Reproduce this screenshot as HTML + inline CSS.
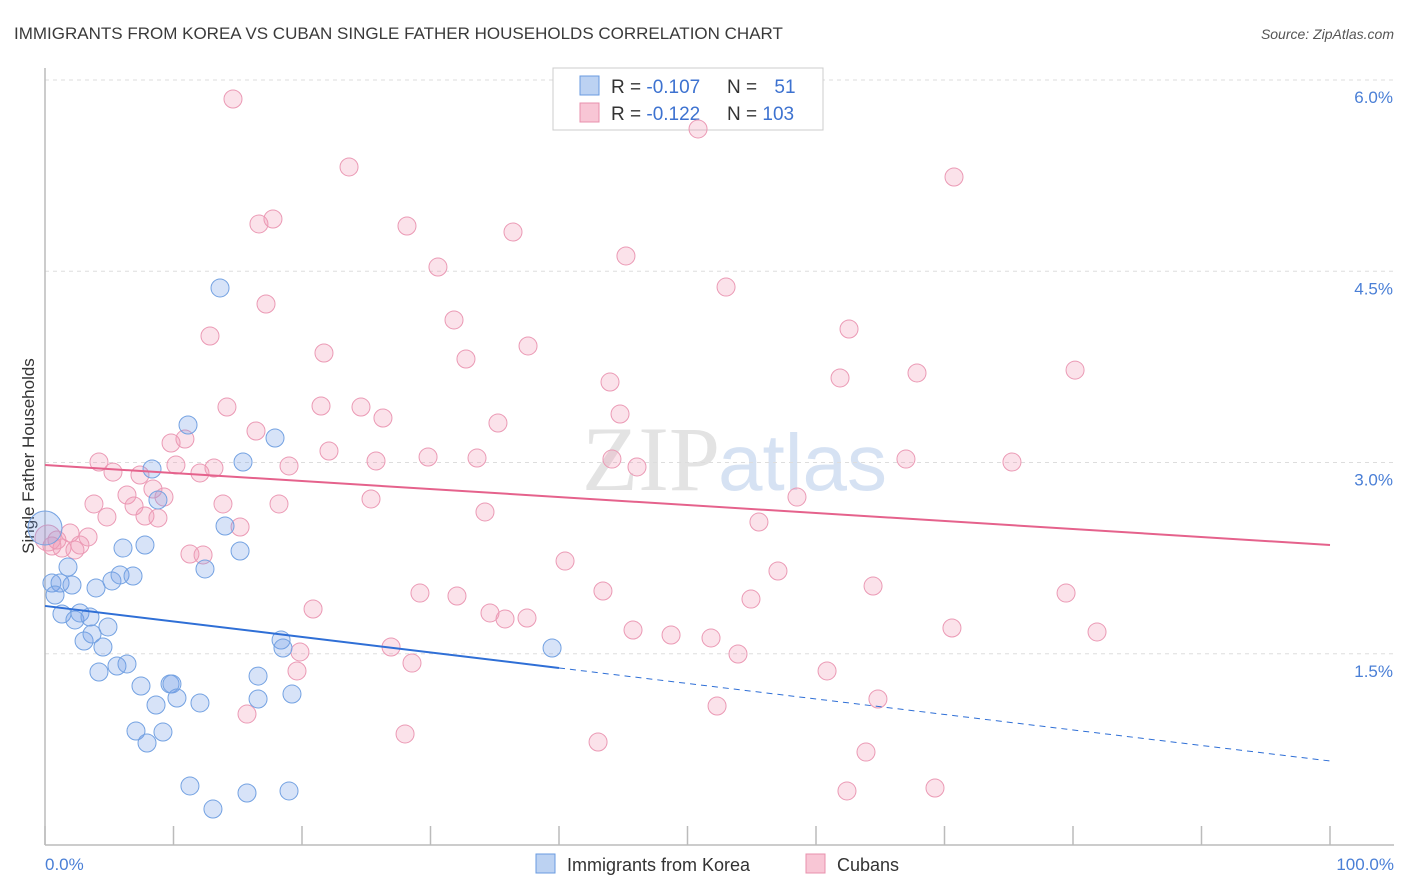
<!DOCTYPE html>
<html><head><meta charset="utf-8"><style>
body{margin:0;background:#fff;font-family:"Liberation Sans",sans-serif}
svg{display:block}
</style></head><body>
<svg id="chart" width="1406" height="892" xmlns="http://www.w3.org/2000/svg">
<text x="14" y="39" font-size="17" fill="#3a3a3a">IMMIGRANTS FROM KOREA VS CUBAN SINGLE FATHER HOUSEHOLDS CORRELATION CHART</text>
<text x="1394" y="39" font-size="14" font-style="italic" fill="#555" text-anchor="end">Source: ZipAtlas.com</text>
<text x="720" y="490" font-size="92" fill="#e3e3e3" text-anchor="end" font-family="Liberation Serif">ZIP</text>
<text x="718" y="490" font-size="80" fill="#d6e2f3">atlas</text>
<g id="grid"></g>
<line x1="45" y1="68" x2="45" y2="845" stroke="#bbb" stroke-width="1.5"/>
<line x1="45" y1="845" x2="1394" y2="845" stroke="#bbb" stroke-width="1.5"/>
<text transform="translate(34,456) rotate(-90)" font-size="17" fill="#333" text-anchor="middle">Single Father Households</text>
<text x="45" y="870" font-size="17" fill="#4a7fd6">0.0%</text>
<text x="1394" y="870" font-size="17" fill="#4a7fd6" text-anchor="end">100.0%</text>
<g>
<rect x="553" y="68" width="270" height="62" fill="#fff" stroke="#ccc"/>
<rect x="580" y="76" width="19" height="19" fill="#bcd2f2" stroke="#6a9be0"/>
<rect x="580" y="103" width="19" height="19" fill="#f8c6d5" stroke="#e890ad"/>
<text x="611" y="93" font-size="19" fill="#333">R = <tspan fill="#3d72d0">-0.107</tspan></text>
<text x="727" y="93" font-size="19" fill="#333">N = <tspan fill="#3d72d0" dx="12">51</tspan></text>
<text x="611" y="120" font-size="19" fill="#333">R = <tspan fill="#3d72d0">-0.122</tspan></text>
<text x="727" y="120" font-size="19" fill="#333">N = <tspan fill="#3d72d0">103</tspan></text>
</g>
<g id="pts"></g>
<g id="lines"></g>
<g><rect x="536" y="854" width="19" height="19" fill="#bcd2f2" stroke="#6a9be0"/><text x="567" y="871" font-size="18" fill="#333">Immigrants from Korea</text></g>
<g><rect x="806" y="854" width="19" height="19" fill="#f8c6d5" stroke="#e890ad"/><text x="837" y="871" font-size="18" fill="#333">Cubans</text></g>
</svg>
<script>
const yTicks=[1.5,3.0,4.5,6.0];
const xTicks=[0,10,20,30,40,50,60,70,80,90,100];
const koreaPx=[[45,528],[52,583],[60,583],[72,585],[55,595],[62,614],[75,620],[80,613],[90,617],[68,567],[96,588],[112,581],[120,575],[133,576],[123,548],[145,545],[152,469],[158,500],[188,425],[220,288],[243,462],[275,438],[225,526],[240,551],[205,569],[84,641],[92,634],[103,647],[108,627],[99,672],[117,666],[127,664],[141,686],[170,684],[172,684],[177,698],[200,703],[156,705],[136,731],[163,732],[147,743],[190,786],[213,809],[247,793],[289,791],[258,676],[258,699],[281,640],[283,648],[292,694],[552,648]];
const cubaPx=[[233,99],[349,167],[698,129],[954,177],[259,224],[273,219],[407,226],[513,232],[626,256],[438,267],[266,304],[726,287],[210,336],[454,320],[324,353],[528,346],[466,359],[849,329],[610,382],[840,378],[917,373],[1075,370],[227,407],[321,406],[361,407],[383,418],[620,414],[498,423],[256,431],[171,443],[185,439],[329,451],[376,461],[428,457],[477,458],[612,459],[637,467],[906,459],[1012,462],[99,462],[113,472],[140,475],[176,465],[200,473],[214,468],[289,466],[153,489],[127,495],[164,497],[94,504],[134,506],[223,504],[279,504],[371,499],[485,512],[797,497],[107,517],[145,516],[158,518],[240,527],[759,522],[88,537],[70,533],[57,540],[52,546],[62,548],[75,550],[80,545],[190,554],[203,555],[48,538],[565,561],[778,571],[313,609],[420,593],[457,596],[490,613],[505,619],[527,618],[603,591],[751,599],[873,586],[1066,593],[633,630],[671,635],[711,638],[738,654],[952,628],[1097,632],[300,652],[297,671],[391,647],[412,663],[827,671],[247,714],[405,734],[598,742],[717,706],[878,699],[866,752],[847,791],[935,788]];
const koreaX=koreaPx.map(p=>+((p[0]-45)/12.85).toFixed(2));
const koreaY=koreaPx.map(p=>+((845-p[1])/127.5).toFixed(3));
const cubaX=cubaPx.map(p=>+((p[0]-45)/12.85).toFixed(2));
const cubaY=cubaPx.map(p=>+((845-p[1])/127.5).toFixed(3));
const koreaTrend=[1.875,0.659];
const cubaTrend=[2.98,2.353];
const NS="http://www.w3.org/2000/svg";
const X=v=>45+v*12.85, Y=v=>845-v*127.5;
function mk(t,a,p){const e=document.createElementNS(NS,t);for(const k in a)e.setAttribute(k,a[k]);p.appendChild(e);return e;}
const grid=document.getElementById('grid');
yTicks.forEach(t=>{
 const l=mk('line',{x1:45,x2:1394,y1:Y(t),y2:Y(t),stroke:'#ddd','stroke-dasharray':'4,4'},grid);
 
 
 const tx=mk('text',{x:1393,y:Y(t)+23,'font-size':17,fill:'#4a7fd6','text-anchor':'end'},grid);
 tx.textContent=t.toFixed(1)+'%';
 
 
});
xTicks.forEach(t=>{
 const l=mk('line',{x1:X(t),x2:X(t),y1:826,y2:845,stroke:'#bbb','stroke-width':1.5},grid);
 
 
});
const pts=document.getElementById('pts');
cubaX.forEach((x,i)=>{
 const big=i===70;
 const c=mk('circle',{cx:X(x),cy:Y(cubaY[i]),r:big?13:9,fill:'rgba(240,150,180,0.28)',stroke:'#eb9ab5','stroke-width':1},pts);
 
 
});
koreaX.forEach((x,i)=>{
 const big=i===0;
 const c=mk('circle',{cx:X(x),cy:Y(koreaY[i]),r:big?17:9,fill:'rgba(110,155,230,0.28)',stroke:'#74a2e2','stroke-width':1},pts);
 
 
});
const lines=document.getElementById('lines');
const ky=x=>koreaTrend[0]+(koreaTrend[1]-koreaTrend[0])*x/100;
const cy=x=>cubaTrend[0]+(cubaTrend[1]-cubaTrend[0])*x/100;
let l=mk('line',{x1:X(0),y1:Y(cy(0)),x2:X(100),y2:Y(cy(100)),stroke:'#e5628c','stroke-width':2},lines);


l=mk('line',{x1:X(0),y1:Y(ky(0)),x2:X(40),y2:Y(ky(40)),stroke:'#2f6fd6','stroke-width':2},lines);


l=mk('line',{x1:X(40),y1:Y(ky(40)),x2:X(100),y2:Y(ky(100)),stroke:'#2f6fd6','stroke-width':1,'stroke-dasharray':'6,5'},lines);


</script>
</body></html>
